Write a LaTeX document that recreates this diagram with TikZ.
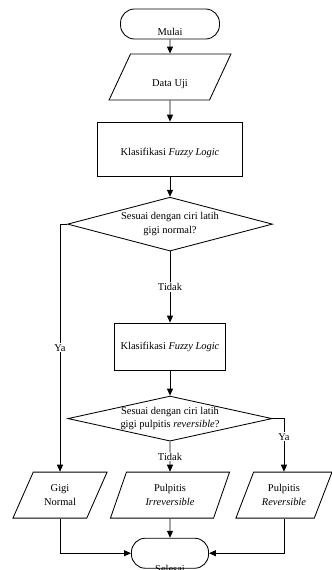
\documentclass[tikz,border=0pt]{standalone}
\usepackage{fontspec}
\setmainfont{Liberation Serif}
\usetikzlibrary{calc,shapes.geometric,arrows.meta}
\tikzstyle{terminator} = [rectangle, draw, text centered, rounded corners = 14bp, minimum height=1.06cm, text depth=0pt]
\tikzstyle{process} = [rectangle, draw, text centered, minimum height=2em]
\tikzstyle{decision} = [diamond, aspect=4.5, draw, text centered, inner sep=0pt, align=center]
\tikzstyle{data}=[trapezium, draw, text centered, trapezium left angle=65, trapezium right angle=115, trapezium stretches body=true, minimum height=1.62cm, inner ysep=11.5bp, align=center]
\tikzstyle{connector} = [line width=0.3mm,-{Triangle[length=7bp,width=6bp]}]
\tikzstyle{answer} = [fill=white, inner sep=1pt]

\begin{document}
\begin{tikzpicture}[font=\fontsize{10.5}{13.5}\selectfont, line width=0.3mm]
            \useasboundingbox (-170bp,24bp) rectangle (162bp,-546bp);
            \node (start) [terminator, minimum width=3.49cm, text height=22bp] {Mulai};
            \node (input) [data, below of = start, yshift = -0.87cm, minimum width=4.30cm, text height=18bp, text depth=0pt, inner ysep=14bp] {Data Uji};
            \node (fuzzy1) [process, below of = input, yshift = -1.54cm, minimum width=5.12cm, minimum height=1.90cm, text height=12bp, text depth=0pt] {Klasifikasi \textit{Fuzzy Logic}};
            \node (cond1) [decision, below of = fuzzy1, yshift = -1.65cm, minimum width=7.23cm, minimum height=1.90cm] {Sesuai dengan ciri latih\\gigi normal?};
            \node (fuzzy2) [process, below of = cond1, yshift = -3.32cm, minimum width=3.92cm, minimum height=1.66cm] {Klasifikasi \textit{Fuzzy Logic}};
            \node (cond2) [decision, below of = fuzzy2, yshift = -1.54cm, minimum width=7.20cm, minimum height=1.59cm] {Sesuai dengan ciri latih\\gigi pulpitis \textit{reversible}?};
            \node (irrev) [data, below of = cond2, yshift = -1.70cm, minimum width=4.20cm, trapezium left angle=70, trapezium right angle=110] {Pulpitis\\\textit{Irreversible}};
            \node (normal) [data, left of = irrev, xshift = -2.88cm, minimum width=3.32cm] {Gigi\\Normal};
            \node (rev) [data, right of = irrev, xshift = 3.02cm, minimum width=3.39cm, trapezium left angle=68, trapezium right angle=112] {Pulpitis\\\textit{Reversible}};
            \node (end) [terminator, below of = irrev, yshift = -1.05cm, minimum width=2.72cm, text height=38bp, inner ysep=-4bp] {Selesai};
            \draw [connector] (start) -- (input);
            \draw [connector] (input) -- (fuzzy1);
            \draw [connector] (fuzzy1) -- (cond1);
            \draw [connector] (cond1) -- node[answer] {Tidak} (fuzzy2);
            \draw [connector] (cond1.west) -| node[answer, pos=0.75] {Ya} (normal.north);
            \draw [connector] (fuzzy2) -- (cond2);
            \draw [connector] (cond2) -- node[answer] {Tidak} (irrev);
            \draw [connector] (cond2.east) -| node[answer, pos=0.67] {Ya} (rev.north);
            \draw [connector] (normal.south) |- (end.west);
            \draw [connector] (irrev) -- (end);
            \draw [connector] (rev.south) |- (end.east);
        \end{tikzpicture}
\end{document}
